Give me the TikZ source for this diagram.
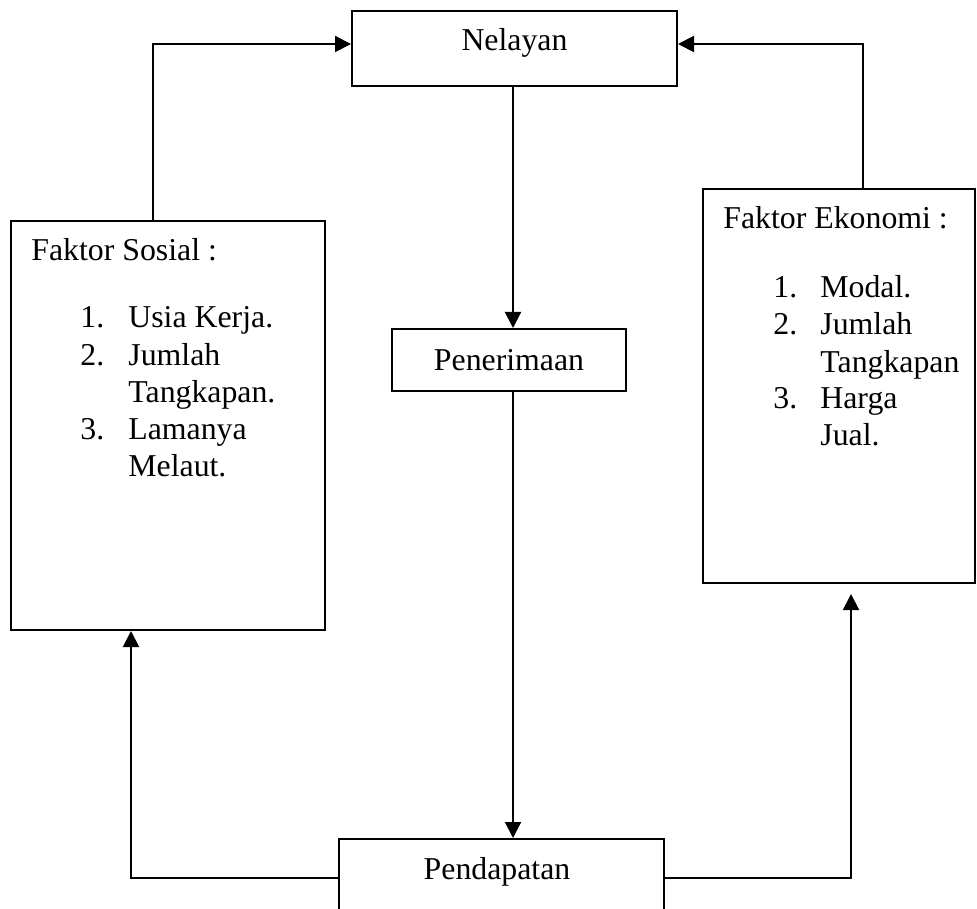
\documentclass[tikz,border=0pt]{standalone}
\usepackage{fontspec}
\setmainfont{Liberation Serif}
\usetikzlibrary{arrows.meta}
\begin{document}
\begin{tikzpicture}[x=0.5pt,y=-0.5pt,
  box/.style={draw, line width=1pt, rectangle, inner sep=0pt},
  txt/.style={inner sep=0pt, font=\fontsize{15.9}{18.5}\selectfont},
  arr/.style={line width=1pt, -{Triangle[length=8pt,width=8pt]}},
  ln/.style={line width=1pt}]
\useasboundingbox (0,0) rectangle (977,908);
\clip (0,0) rectangle (977,908);
% boxes
\node[box, minimum width=162.5pt, minimum height=37.5pt] (nel) at (514.5,48.5) {};
\node[box, minimum width=117pt, minimum height=31pt] (pen) at (509,360) {};
\node[box, minimum width=162.5pt, minimum height=51pt] (pend) at (501.5,890) {};
\node[box, minimum width=157pt, minimum height=204.5pt] (sos) at (168,425.5) {};
\node[box, minimum width=136pt, minimum height=197pt] (eko) at (839,386) {};
% texts
\node[txt, anchor=base] (tnel) at (514.5,51) {Nelayan};
\node[txt, anchor=base] (tpen) at (509,370) {Penerimaan};
\node[txt, anchor=base] (tpend) at (497,879) {Pendapatan};
\node[txt, anchor=base west] (sosh) at (31,261) {Faktor Sosial :};
\node[txt, anchor=base west] (sn1) at (80,328) {1.};
\node[txt, anchor=base west] (st1) at (128,328) {Usia Kerja.};
\node[txt, anchor=base west] (sn2) at (80,365) {2.};
\node[txt, anchor=base west] (st2) at (128,365) {Jumlah};
\node[txt, anchor=base west] (st2b) at (128,402) {Tangkapan.};
\node[txt, anchor=base west] (sn3) at (80,439) {3.};
\node[txt, anchor=base west] (st3) at (128,439) {Lamanya};
\node[txt, anchor=base west] (st3b) at (128,476) {Melaut.};
\node[txt, anchor=base west] (ekh) at (723,229) {Faktor Ekonomi :};
\node[txt, anchor=base west] (en1) at (773,298) {1.};
\node[txt, anchor=base west] (et1) at (820,298) {Modal.};
\node[txt, anchor=base west] (en2) at (773,335) {2.};
\node[txt, anchor=base west] (et2) at (820,335) {Jumlah};
\node[txt, anchor=base west] (et2b) at (820,372) {Tangkapan};
\node[txt, anchor=base west] (en3) at (773,408) {3.};
\node[txt, anchor=base west] (et3) at (820,408) {Harga};
\node[txt, anchor=base west] (et3b) at (820,445) {Jual.};
% connector coordinates
\coordinate (ca) at (153,44);
\coordinate (cb) at (863,44);
\coordinate (cx) at (513,0);
\coordinate (cl) at (131,878);
\coordinate (cr) at (851,878);
% connectors
\draw[arr] (sos.north -| ca) -- (ca) -- (ca -| nel.west);
\draw[arr] (eko.north -| cb) -- (cb) -- (cb -| nel.east);
\draw[arr] (nel.south -| cx) -- (pen.north -| cx);
\draw[arr] (pen.south -| cx) -- (pend.north -| cx);
\draw[arr] (cl -| pend.west) -- (cl) -- (sos.south -| cl);
\draw[arr, shorten >=5pt] (cr -| pend.east) -- (cr) -- (eko.south -| cr);
\end{tikzpicture}
\end{document}
